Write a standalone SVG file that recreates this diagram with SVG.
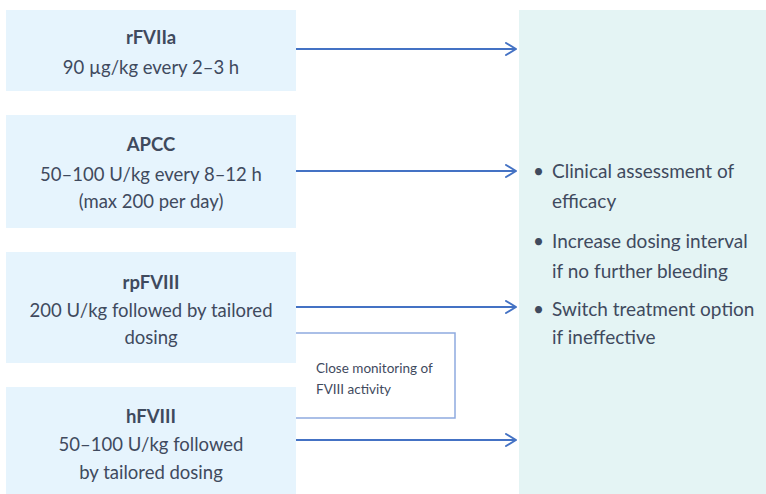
<svg xmlns="http://www.w3.org/2000/svg" width="766" height="494" viewBox="0 0 766 494">
<style>
.box{fill:#e6f4fd}
.panel{fill:#e4f4f4}
text{font-family:Lato,"Open Sans",sans-serif;fill:#3f4a5e}
.t{font-size:18.5px;text-anchor:middle}
.b{font-weight:bold}
.r{font-size:19px}
.s{font-size:13.5px}
.arr{stroke:#4472c4;stroke-width:2;fill:none}
.mon{stroke:#8eaae0;stroke-width:1.5;fill:none}
</style>
<defs>
<marker id="ah" viewBox="0 0 12 14" refX="11" refY="7" markerWidth="12" markerHeight="14" markerUnits="userSpaceOnUse" orient="auto">
<path d="M1,1 L11,7 L1,13" fill="none" stroke="#4472c4" stroke-width="2" stroke-linecap="round" stroke-linejoin="round"/>
</marker>
</defs>
<g id="outcome">
<rect class="panel" x="519" y="10" width="247" height="484"/>
<text class="r" x="533" y="178">•</text>
<text class="r" x="552" y="178">Clinical assessment of</text>
<text class="r" x="552" y="208">efficacy</text>
<text class="r" x="533" y="248">•</text>
<text class="r" x="552" y="248">Increase dosing interval</text>
<text class="r" x="552" y="278">if no further bleeding</text>
<text class="r" x="533" y="316">•</text>
<text class="r" x="552" y="316">Switch treatment option</text>
<text class="r" x="552" y="344">if ineffective</text>
</g>
<g id="rfviia">
<rect class="box" x="6" y="10" width="290" height="81"/>
<text class="t b" x="151" y="44">rFVIIa</text>
<text class="t" x="151" y="74">90 µg/kg every 2–3 h</text>
</g>
<g id="apcc">
<rect class="box" x="6" y="115" width="290" height="113"/>
<text class="t b" x="151" y="151">APCC</text>
<text class="t" x="151" y="181">50–100 U/kg every 8–12 h</text>
<text class="t" x="151" y="208">(max 200 per day)</text>
</g>
<g id="rpfviii">
<rect class="box" x="6" y="252" width="290" height="111"/>
<text class="t b" x="151" y="289">rpFVIII</text>
<text class="t" x="151" y="317">200 U/kg followed by tailored</text>
<text class="t" x="151" y="344">dosing</text>
</g>
<g id="hfviii">
<rect class="box" x="6" y="387" width="290" height="107"/>
<text class="t b" x="151" y="423">hFVIII</text>
<text class="t" x="151" y="451">50–100 U/kg followed</text>
<text class="t" x="151" y="479">by tailored dosing</text>
</g>
<g id="monitoring">
<path class="mon" d="M296,333 H455 V418 H296"/>
<text class="s" x="316" y="373">Close monitoring of</text>
<text class="s" x="316" y="394">FVIII activity</text>
</g>
<g id="connectors">
<line class="arr" x1="296" y1="49" x2="516" y2="49" marker-end="url(#ah)"/>
<line class="arr" x1="296" y1="171" x2="516" y2="171" marker-end="url(#ah)"/>
<line class="arr" x1="296" y1="307" x2="516" y2="307" marker-end="url(#ah)"/>
<line class="arr" x1="296" y1="440" x2="516" y2="440" marker-end="url(#ah)"/>
</g>
</svg>
